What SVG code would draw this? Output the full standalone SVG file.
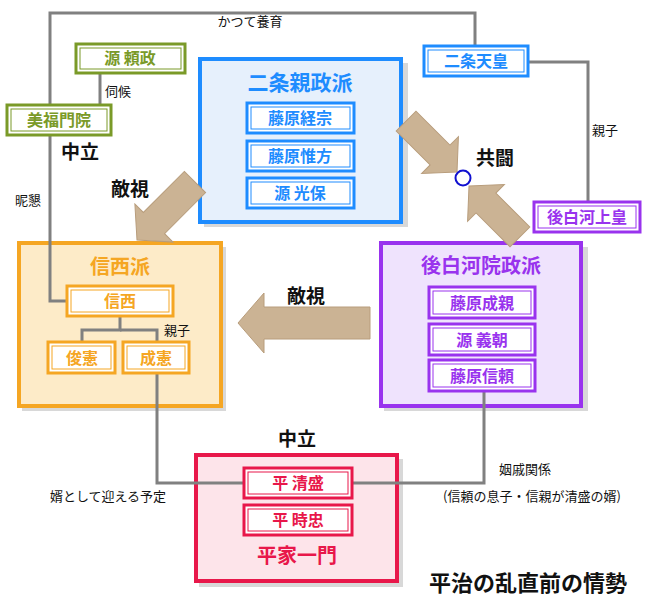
<svg xmlns="http://www.w3.org/2000/svg" width="650" height="610" viewBox="0 0 650 610">
<style>
text{font-family:"Noto Sans CJK JP","Noto Sans CJK SC",sans-serif;text-anchor:middle}
.ln{fill:none;stroke:#808080;stroke-width:3}
.lb{font-size:13px;fill:#111}
.bl{font-size:19px;font-weight:bold;fill:#111}
.arr{fill:#cbb394;stroke:#b89d7c;stroke-width:1}
.m{font-size:16px;font-weight:bold}
.sh{fill:#d8d8d8}
</style>
<rect width="650" height="610" fill="#fff"/>
<g id="nijo-faction">
<rect class="sh" x="204" y="63" width="204" height="164"/>
<rect x="200" y="59" width="201" height="163" fill="#e6f0fc" stroke="#1e8cff" stroke-width="4"/>
<text x="300" y="90" font-size="21" font-weight="bold" fill="#1e8cff">二条親政派</text>
</g>
<g id="shinzei-faction">
<rect class="sh" x="22" y="247" width="204" height="164"/>
<rect x="19" y="243" width="202" height="163" fill="#fdebc8" stroke="#f5a623" stroke-width="4"/>
<text x="120" y="274" font-size="20" font-weight="bold" fill="#f5a623">信西派</text>
</g>
<g id="goshirakawa-faction">
<rect class="sh" x="384" y="247" width="204" height="164"/>
<rect x="381" y="243" width="200" height="163" fill="#efe3fd" stroke="#9933ee" stroke-width="4"/>
<text x="481" y="273" font-size="20" font-weight="bold" fill="#9933ee">後白河院政派</text>
</g>
<g id="heike">
<rect class="sh" x="199" y="459" width="204" height="128"/>
<rect x="196" y="455" width="201" height="126" fill="#fde4ea" stroke="#e8174a" stroke-width="4"/>
<text x="297" y="563" font-size="20" font-weight="bold" fill="#e8174a">平家一門</text>
</g>
<g id="connectors">
<polyline class="ln" points="50,105 50,13 475,13 475,47"/>
<polyline class="ln" points="50,136 50,301 67,301"/>
<line class="ln" x1="100" y1="73" x2="100" y2="105"/>
<polyline class="ln" points="528,62 588,62 588,202"/>
<polyline class="ln" points="120,316 120,330 82,330 82,342"/>
<polyline class="ln" points="120,330 157,330 157,342"/>
<polyline class="ln" points="157,373 157,483 243,483"/>
<polyline class="ln" points="484,390 484,483 352,483"/>
<text class="lb" x="250" y="26">かつて養育</text>
<text class="lb" x="118" y="96">伺候</text>
<text class="lb" x="28" y="205">昵懇</text>
<text class="lb" x="605" y="135">親子</text>
<text class="lb" x="177" y="335">親子</text>
<text class="lb" x="108" y="501">婿として迎える予定</text>
<text class="lb" x="525" y="474">姻戚関係</text>
<text class="lb" x="532" y="501">(信頼の息子・信親が清盛の婿)</text>
<polygon class="arr" transform="translate(238,323)" points="0,0 26,-30 26,-16 132,-16 132,16 26,16 26,30"/>
<polygon class="arr" transform="translate(137,240) rotate(-45)" points="0,0 24,-27 24,-15 82,-15 82,15 24,15 24,27"/>
<polygon class="arr" transform="translate(457,172) rotate(-135)" points="0,0 24,-26 24,-14 72,-14 72,14 24,14 24,26"/>
<polygon class="arr" transform="translate(469,186) rotate(45)" points="0,0 24,-26 24,-14 72,-14 72,14 24,14 24,26"/>
<circle cx="463" cy="178" r="7.5" fill="#fff" stroke="#1010d0" stroke-width="2"/>
<text class="bl" x="495" y="165">共闘</text>
<text class="bl" x="80" y="159">中立</text>
<text class="bl" x="130" y="196">敵視</text>
<text class="bl" x="306" y="303">敵視</text>
<text class="bl" x="297" y="446">中立</text>
</g>
<g id="yorimasa"><rect x="76" y="44" width="109" height="29" fill="#fff" stroke="#7a9a28" stroke-width="3"/><rect x="80" y="48" width="101" height="21" fill="none" stroke="#7a9a28"/><text class="m" x="130" y="64" fill="#7a9a28">源 頼政</text></g>
<g id="bifukumonin"><rect x="7" y="105" width="104" height="30" fill="#fff" stroke="#7a9a28" stroke-width="3"/><rect x="11" y="109" width="96" height="22" fill="none" stroke="#7a9a28"/><text class="m" x="59" y="126" fill="#7a9a28">美福門院</text></g>
<g id="nijo-tenno"><rect x="424" y="46" width="104" height="30" fill="#fff" stroke="#1e8cff" stroke-width="3"/><rect x="428" y="50" width="96" height="22" fill="none" stroke="#1e8cff"/><text class="m" x="476" y="67" fill="#1e8cff">二条天皇</text></g>
<g id="goshirakawa"><rect x="534" y="202" width="106" height="30" fill="#fff" stroke="#9933ee" stroke-width="3"/><rect x="538" y="206" width="98" height="22" fill="none" stroke="#9933ee"/><text class="m" x="587" y="223" fill="#9933ee">後白河上皇</text></g>
<g id="tsunemune"><rect x="247" y="103" width="107" height="30" fill="#fff" stroke="#1e8cff" stroke-width="3"/><rect x="251" y="107" width="99" height="22" fill="none" stroke="#1e8cff"/><text class="m" x="300" y="124" fill="#1e8cff">藤原経宗</text></g>
<g id="korekata"><rect x="247" y="141" width="107" height="30" fill="#fff" stroke="#1e8cff" stroke-width="3"/><rect x="251" y="145" width="99" height="22" fill="none" stroke="#1e8cff"/><text class="m" x="300" y="162" fill="#1e8cff">藤原惟方</text></g>
<g id="mitsuyasu"><rect x="247" y="178" width="107" height="30" fill="#fff" stroke="#1e8cff" stroke-width="3"/><rect x="251" y="182" width="99" height="22" fill="none" stroke="#1e8cff"/><text class="m" x="300" y="199" fill="#1e8cff">源 光保</text></g>
<g id="shinzei"><rect x="67" y="286" width="106" height="30" fill="#fff" stroke="#f5a623" stroke-width="3"/><rect x="71" y="290" width="98" height="22" fill="none" stroke="#f5a623"/><text class="m" x="120" y="307" fill="#f5a623">信西</text></g>
<g id="toshinori"><rect x="48" y="342" width="67" height="31" fill="#fff" stroke="#f5a623" stroke-width="3"/><rect x="52" y="346" width="59" height="23" fill="none" stroke="#f5a623"/><text class="m" x="82" y="364" fill="#f5a623">俊憲</text></g>
<g id="shigenori"><rect x="123" y="342" width="66" height="31" fill="#fff" stroke="#f5a623" stroke-width="3"/><rect x="127" y="346" width="58" height="23" fill="none" stroke="#f5a623"/><text class="m" x="156" y="364" fill="#f5a623">成憲</text></g>
<g id="narichika"><rect x="429" y="287" width="106" height="31" fill="#fff" stroke="#9933ee" stroke-width="3"/><rect x="433" y="291" width="98" height="23" fill="none" stroke="#9933ee"/><text class="m" x="482" y="309" fill="#9933ee">藤原成親</text></g>
<g id="yoshitomo"><rect x="429" y="324" width="106" height="31" fill="#fff" stroke="#9933ee" stroke-width="3"/><rect x="433" y="328" width="98" height="23" fill="none" stroke="#9933ee"/><text class="m" x="482" y="346" fill="#9933ee">源 義朝</text></g>
<g id="nobuyori"><rect x="429" y="360" width="106" height="31" fill="#fff" stroke="#9933ee" stroke-width="3"/><rect x="433" y="364" width="98" height="23" fill="none" stroke="#9933ee"/><text class="m" x="482" y="382" fill="#9933ee">藤原信頼</text></g>
<g id="kiyomori"><rect x="244" y="468" width="108" height="30" fill="#fff" stroke="#e8174a" stroke-width="3"/><rect x="248" y="472" width="100" height="22" fill="none" stroke="#e8174a"/><text class="m" x="298" y="489" fill="#e8174a">平 清盛</text></g>
<g id="tokitada"><rect x="244" y="505" width="108" height="30" fill="#fff" stroke="#e8174a" stroke-width="3"/><rect x="248" y="509" width="100" height="22" fill="none" stroke="#e8174a"/><text class="m" x="298" y="526" fill="#e8174a">平 時忠</text></g>
<text x="528" y="591" font-size="22" font-weight="bold" fill="#111">平治の乱直前の情勢</text>
</svg>
